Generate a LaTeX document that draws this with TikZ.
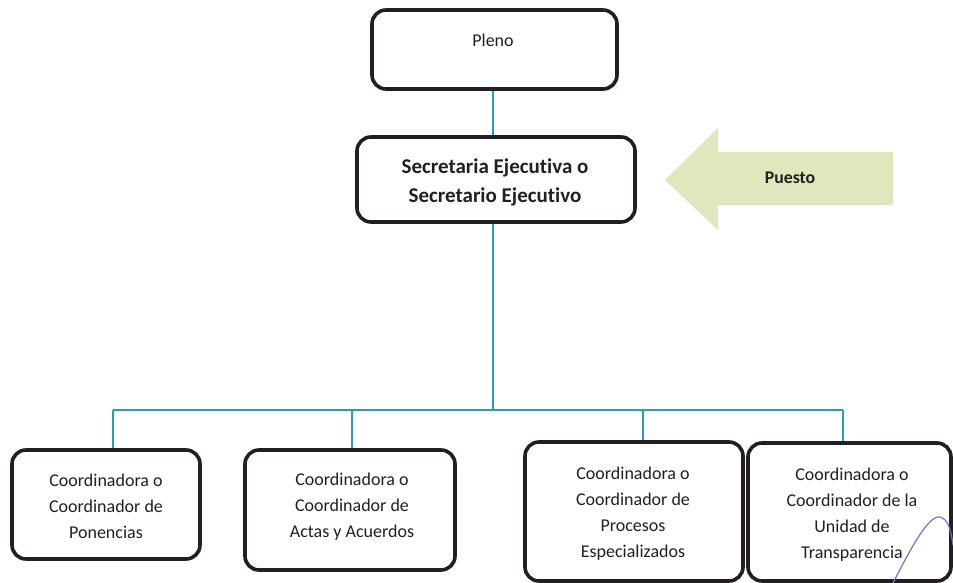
\documentclass[tikz,border=0pt]{standalone}
\usepackage{fontspec}
\setmainfont{Carlito}[Ligatures=CommonOff]
\definecolor{boxline}{HTML}{231F20}
\definecolor{linkblue}{HTML}{2A9BC6}
\definecolor{arrowfill}{HTML}{DFE7BD}
\definecolor{inkpurple}{HTML}{7B6CD6}
\tikzset{
  orgbox/.style={draw=boxline, line width=3.6pt, rounded corners=14pt, fill=white, inner sep=0pt},
  boxtext/.style={align=center, font=\fontsize{18}{26}\selectfont, text=boxline},
  headtext/.style={align=center, font=\fontsize{21}{29}\selectfont\bfseries, text=boxline},
  link/.style={draw=linkblue, line width=1.6pt},
}
\begin{document}
\begin{tikzpicture}[x=1pt, y=-1pt]
\useasboundingbox (0,0) rectangle (953,583);

% Pleno
\node[orgbox, minimum width=245, minimum height=79] (pleno) at (494.5,49.5) {};
\node[boxtext] (plenoT) at (493,40) {Pleno};

% Secretaria Ejecutiva
\node[orgbox, minimum width=278, minimum height=85] (secre) at (496,179.5) {};
\node[headtext] (secreT) at (495,182) {Secretaria Ejecutiva o\\Secretario Ejecutivo};

% Puesto arrow
\fill[arrowfill] (665,180) -- (718,128) -- (718,152) -- (893,152) -- (893,205) -- (718,205) -- (718,230) -- cycle;
\node[font=\fontsize{17.8}{20}\selectfont\bfseries, text=boxline] (puesto) at (790,178) {Puesto};

% Coordinations
\node[orgbox, minimum width=188, minimum height=109] (c1) at (106,504.5) {};
\node[boxtext] (c1T) at (106,506) {Coordinadora o\\Coordinador de\\Ponencias};

\node[orgbox, minimum width=210, minimum height=120] (c2) at (350,510) {};
\node[boxtext] (c2T) at (352,507) {Coordinadora o\\Coordinador de\\Actas y Acuerdos};

\node[orgbox, minimum width=218, minimum height=139] (c3) at (634,511.5) {};
\node[boxtext] (c3T) at (633,514) {Coordinadora o\\Coordinador de\\Procesos\\Especializados};

\node[orgbox, minimum width=203, minimum height=138] (c4) at (849.5,512) {};
\node[boxtext] (c4T) at (852,514.5) {Coordinadora o\\Coordinador de la\\Unidad de\\Transparencia};

% Connectors
\coordinate (j1) at (113,410);
\coordinate (j2) at (352,410);
\coordinate (j3) at (643,410);
\coordinate (j4) at (843,410);
\coordinate (jt) at (493,410);
\draw[link] (pleno.south -| jt) -- (secre.north -| jt);
\draw[link] (secre.south -| jt) -- (jt);
\draw[link] (j1) -- (j4);
\draw[link] (j1) -- (j1 |- c1.north);
\draw[link] (j2) -- (j2 |- c2.north);
\draw[link] (j3) -- (j3 |- c3.north);
\draw[link] (j4) -- (j4 |- c4.north);

% Ink stroke at the lower right corner
\draw[inkpurple, line width=1.2pt, line cap=round]
  (893,583) .. controls (910,550) and (928,515) .. (940,517)
  .. controls (948,519) and (951,530) .. (953,545);
\end{tikzpicture}
\end{document}
